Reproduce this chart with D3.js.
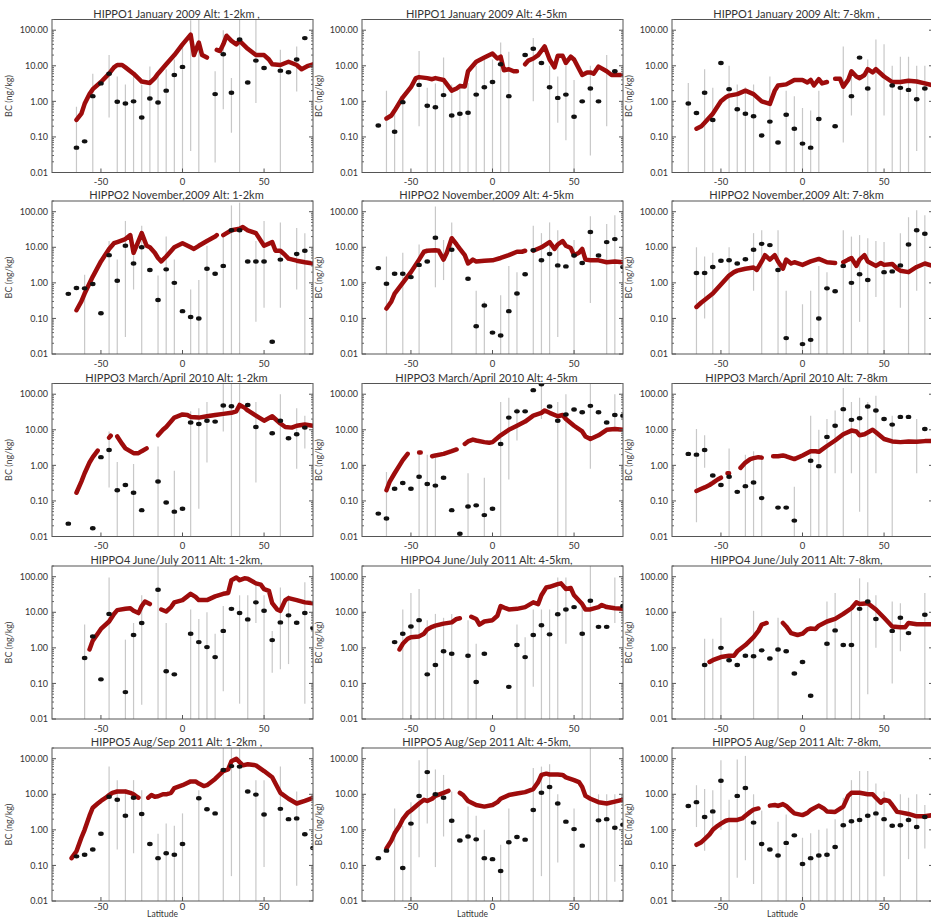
<!DOCTYPE html>
<html>
<head>
<meta charset="utf-8">
<script src="https://cdn.jsdelivr.net/npm/d3@7"></script>
<style>
  body { margin: 0; background: #fff; }
  svg { display: block; font-family: Lato, "Open Sans", sans-serif; }
</style>
</head>
<body>
<div id="chart"></div>
<script>
// HIPPO black carbon vs latitude — obs (points + ranges) and model (red line)

const campaigns = ["HIPPO1 January 2009", "HIPPO2 November,2009", "HIPPO3 March/April 2010", "HIPPO4 June/July 2011", "HIPPO5 Aug/Sep 2011"];
const altitudes = ["1-2km", "4-5km", "7-8km"];
const titleSuffix = [
  [" ,", "", " ,"],
  ["", "", ""],
  ["", "", ""],
  [",", ",", ","],
  [" ,", ",", ","]
];
const yTicks = [0.01, 0.1, 1, 10, 100];
const xTicks = [-50, 0, 50];

// obs: [lat, BC], bars: [lat, low, high], model: [lat, BC] (null = gap)
const h1a_obs = [[-65,0.05],[-60,0.075],[-55,1.4],[-50,3.2],[-45,6],[-40,0.97],[-35,0.87],[-30,1.0],[-25,0.35],[-20,1.2],[-15,0.93],[-10,2.0],[-5,5.5],[0,9.3],[20,1.6],[25,21],[30,1.75],[35,55],[40,3.4],[45,14],[50,8.7],[60,7.3],[65,6.6],[70,15],[75,60]];
const h1a_bars = [[-65,0.01,0.7],[-55,0.01,6],[-45,0.35,20],[-40,0.01,5],[-35,0.01,3],[-30,0.01,7],[-25,0.01,3],[-20,0.01,9.5],[-15,0.01,5],[-10,0.01,8],[-5,0.01,15],[0,0.01,40],[5,0.04,190],[10,0.01,200],[20,0.019,7],[25,0.6,100],[30,0.13,4.5],[35,0.01,200],[45,0.9,200],[60,0.01,28],[70,1.9,35]];
const h1a_model = [[-65,0.3],[-62,0.45],[-60,0.85],[-57,1.6],[-55,2.2],[-50,3.5],[-45,6],[-42,9],[-40,10.5],[-37,10.5],[-35,9],[-30,6],[-25,3.6],[-20,3.3],[-17,4.5],[-15,6],[-10,11],[-5,20],[0,40],[5,75],[7,20],[10,45],[12,20],[15,17],null,[21,28],[23,26],[25,40],[27,70],[30,50],[33,40],[35,50],[40,30],[45,20],[50,20],[53,15],[55,11],[60,10.5],[65,13],[70,10.5],[73,8],[77,10],[80,11]];

const h1b_obs = [[-70,0.21],[-60,0.14],[-55,0.95],[-45,2.9],[-40,0.75],[-35,0.68],[-30,1.5],[-25,0.4],[-20,0.45],[-15,0.48],[-10,1.55],[-5,2.5],[0,3.5],[5,11],[10,1.4],[20,20],[25,30],[30,12],[35,2.5],[40,1.25],[45,1.55],[50,0.37],[55,1.0],[60,2.3],[65,1.0],[75,7]];
const h1b_bars = [[-65,0.01,2],[-60,0.01,0.5],[-55,0.01,1.5],[-45,0.2,26],[-40,0.01,2.4],[-35,0.01,3.2],[-30,0.01,17],[-25,0.01,3],[-20,0.01,3.3],[-15,0.01,3.3],[-10,0.01,10],[-5,0.01,15],[0,0.01,15],[5,0.01,45],[10,0.01,25],[25,1,60],[35,0.01,10],[40,0.25,5],[45,0.08,10],[50,0.01,4],[60,0.03,10],[70,0.2,20]];
const h1b_model = [[-65,0.33],[-62,0.4],[-60,0.55],[-55,1.3],[-50,2.5],[-47,4.5],[-45,4.8],[-40,4.5],[-37,4.2],[-35,4.5],[-30,4.0],[-25,2.0],[-22,2.3],[-20,2.7],[-17,2.6],[-15,7],[-10,13],[-5,17],[0,22],[3,16],[5,18],[7,7.5],[10,8],[13,7],[15,7],null,[20,11],[22,14],[25,16],[28,20],[32,35],[35,15],[38,9],[40,19],[43,19],[45,12],[48,18],[50,15],[55,5.5],[58,6.5],[60,6.5],[62,6],[65,9.5],[70,7],[73,5.5],[80,5.5]];

const h1c_obs = [[-70,0.87],[-65,0.47],[-60,1.75],[-55,0.3],[-50,12],[-45,2.2],[-40,0.6],[-35,0.45],[-30,0.38],[-25,0.11],[-20,0.27],[-15,0.07],[-10,0.42],[-5,0.17],[0,0.065],[5,0.05],[10,0.32],[20,0.2],[30,1.4],[35,17],[40,2.3],[55,2.8],[60,2.4],[65,2.1],[70,1.15],[75,2.3]];
const h1c_bars = [[-70,0.01,3.3],[-60,0.01,8],[-55,0.01,2.4],[-45,0.01,10],[-40,0.01,3],[-35,0.01,2.5],[-30,0.01,3],[-20,0.01,5],[-10,0.01,2],[-5,0.01,1.4],[0,0.01,0.65],[5,0.01,0.55],[10,0.01,2],[25,0.07,35],[30,0.4,5],[40,0.01,15],[45,0.01,55],[50,0.4,40],[55,0.01,10],[60,0.01,18],[65,0.01,18],[70,0.04,10],[75,0.01,10]];
const h1c_model = [[-65,0.17],[-62,0.2],[-60,0.25],[-55,0.45],[-50,1.0],[-47,1.3],[-45,1.45],[-40,1.6],[-35,2.0],[-30,1.6],[-25,1.0],[-20,0.85],[-17,2.0],[-15,2.8],[-10,3.0],[-5,4.0],[0,4.0],[3,3.4],[5,4.0],[7,2.8],[10,4.2],[12,3.2],[15,3.5],null,[20,4.3],[23,4.3],[25,2.6],[28,4],[30,7],[33,5],[35,4.5],[38,5.5],[40,8],[43,6.5],[45,8],[50,5],[55,3.5],[60,3.5],[65,3.8],[70,3.6],[75,3.2],[80,2.8]];

const h2a_obs = [[-70,0.49],[-65,0.72],[-60,0.7],[-55,0.93],[-50,0.14],[-45,6],[-40,1.15],[-35,11],[-30,3.5],[-25,10],[-20,2.3],[-15,0.33],[-10,2.4],[-5,1.0],[0,0.16],[5,0.11],[10,0.1],[15,2.5],[20,1.8],[25,3],[30,30],[35,30],[40,4],[45,4],[50,4],[55,0.022],[60,4.5],[70,6.5],[75,8]];
const h2a_bars = [[-60,0.01,1.7],[-45,0.01,15],[-40,0.01,4.5],[-35,0.03,55],[-30,0.65,12],[-25,0.01,40],[-15,0.01,1.6],[-10,0.01,20],[-5,0.01,4.5],[5,0.01,0.65],[10,0.01,1.2],[15,0.01,11],[25,0.01,25],[30,0.01,150],[35,0.01,180],[45,0.08,15],[50,0.2,55],[60,0.2,50],[70,0.65,35],[75,0.01,25]];
const h2a_model = [[-65,0.17],[-62,0.3],[-60,0.5],[-55,1.5],[-50,4],[-45,9],[-42,13],[-40,14],[-35,17],[-32,22],[-30,7],[-27,15],[-25,25],[-22,11],[-20,10],[-17,7],[-15,5],[-13,4],[-10,5.5],[-5,10],[0,13],[5,10],[7,9],[10,11],[15,15],[20,20],[21,22],null,[25,22],[27,25],[30,30],[35,33],[37,37],[40,30],[45,25],[50,11],[55,14],[57,8],[60,8],[63,6],[65,4.8],[70,4.2],[75,3.8],[80,3.5]];

const h2b_obs = [[-70,2.6],[-65,0.94],[-60,1.8],[-55,1.8],[-50,1.45],[-45,3.2],[-40,4.0],[-35,18.5],[-25,8.5],[-15,1.3],[-10,0.06],[-5,0.23],[0,0.04],[5,0.033],[10,0.16],[15,0.5],[20,1.75],[25,8.3],[30,4.3],[35,6.5],[40,3.1],[45,2.9],[50,5.9],[55,3.6],[60,27],[65,5.9],[70,14],[75,17],[80,2.8]];
const h2b_bars = [[-65,0.01,5.5],[-55,0.01,7],[-45,0.01,12],[-35,0.75,140],[-30,1.2,16],[-25,0.01,50],[-10,0.01,0.6],[-5,0.01,0.3],[5,0.01,0.45],[10,0.01,3],[15,0.01,2],[25,0.01,40],[30,0.01,25],[35,0.01,50],[40,0.03,30],[50,0.01,16],[60,0.27,75],[70,0.01,45],[75,0.01,80]];
const h2b_model = [[-65,0.19],[-62,0.3],[-60,0.5],[-55,1.0],[-50,2],[-45,4.5],[-42,7.5],[-40,8],[-35,8.3],[-33,8],[-30,4.5],[-28,7],[-25,18],[-22,12],[-20,9],[-17,6],[-15,3.5],[-12,4.5],[-10,4],[-5,4.2],[0,4.3],[5,5],[10,6],[15,7.5],[18,7.5],[20,8],null,[25,8],[30,10],[35,14],[38,9],[40,12],[43,15],[45,11],[48,9.5],[50,6],[53,7],[55,9],[57,4.5],[60,4.3],[65,4.3],[70,3.8],[75,4],[80,3.8]];

const h2c_obs = [[-65,1.9],[-60,1.9],[-55,2.8],[-50,4.2],[-45,4.3],[-40,3.5],[-35,4.6],[-30,8.5],[-25,12.5],[-20,11.5],[-15,2.3],[-10,0.028],[0,0.019],[5,0.025],[10,0.1],[15,0.7],[20,0.58],[25,3.0],[30,1.0],[35,1.75],[40,1.2],[50,2.0],[55,2.1],[60,3.1],[65,12],[70,30],[75,24]];
const h2c_bars = [[-65,0.01,10],[-60,0.1,5.5],[-55,0.01,7],[-45,0.01,10],[-30,0.6,25],[-25,0.01,30],[-15,0.01,30],[-10,0.01,0.6],[0,0.01,0.25],[5,0.01,0.6],[10,0.01,3],[15,0.01,2],[25,0.01,30],[30,0.01,20],[35,0.08,22],[40,0.01,18],[45,0.4,15],[50,0.01,14],[60,0.2,25],[65,0.01,70],[70,0.6,110],[75,0.01,80]];
const h2c_model = [[-65,0.21],[-62,0.28],[-60,0.33],[-55,0.5],[-50,0.9],[-45,1.6],[-42,2.0],[-40,2.2],[-35,2.5],[-30,2.7],[-28,2.3],[-25,4],[-23,6],[-20,4.5],[-17,6],[-15,4],[-12,2.5],[-10,4.5],[-7,3.5],[-5,3.8],[0,3.2],[5,4],[10,4.7],[15,3.8],[20,3.6],null,[25,3.8],[28,4.5],[30,5],[33,3],[35,4.5],[38,6],[40,4],[45,3],[48,3.6],[50,3.2],[55,3.4],[58,2.5],[60,2.2],[65,2.0],[70,2.8],[75,3.5],[80,3.0]];

const h3a_obs = [[-70,0.023],[-55,0.017],[-50,1.7],[-45,2.7],[-40,0.2],[-35,0.28],[-30,0.17],[-25,0.055],[-15,0.35],[-10,0.09],[-5,0.05],[0,0.06],[5,16],[10,14.5],[15,18],[20,17],[25,48],[30,46],[40,50],[45,12],[55,8],[60,18],[65,5.8],[70,7.5],[75,11.5]];
const h3a_bars = [[-45,0.24,9],[-40,0.01,1.25],[-30,0.01,1.1],[-15,0.01,3.4],[-5,0.01,0.7],[5,0.01,33],[10,0.06,40],[15,1.2,60],[25,9,200],[30,0.01,200],[35,0.01,200],[45,0.33,60],[60,0.01,100],[70,0.8,40],[75,3,25]];
const h3a_model = [[-65,0.17],[-62,0.35],[-60,0.6],[-57,1.2],[-55,1.7],[-52,2.6],null,[-45,6],[-44,6.8],null,[-40,6.5],[-37,4],[-35,3],[-30,2.2],[-27,2.2],[-25,2.5],[-22,3.0],null,[-15,7],[-12,10],[-10,12],[-5,22],[0,27],[3,26],[5,23],[10,22],[15,24],[20,26],[25,28],[30,30],[33,33],[35,50],[38,42],[40,35],[45,25],[50,18],[55,24],[60,15],[63,12],[67,11.5],[70,13],[75,14],[80,13]];

const h3b_obs = [[-70,0.044],[-65,0.032],[-60,0.22],[-55,0.32],[-50,0.22],[-45,0.48],[-40,0.3],[-35,0.27],[-30,0.45],[-25,0.055],[-20,0.012],[-15,0.07],[-10,0.075],[-5,0.04],[0,0.06],[5,4],[10,22],[15,33],[20,33],[25,130],[30,190],[35,45],[40,18],[45,27],[50,37],[55,31],[60,47],[65,31],[70,16],[75,26],[80,25]];
const h3b_bars = [[-65,0.01,0.65],[-45,0.01,2.5],[-40,0.01,2],[-35,0.01,1.8],[-15,0.01,0.6],[-5,0.01,0.45],[5,0.01,60],[10,0.4,80],[15,5,40],[30,20,200],[40,0.01,60],[45,0.01,100],[60,0.8,200],[75,10,100]];
const h3b_model = [[-65,0.2],[-63,0.35],[-60,0.6],[-57,1.0],[-55,1.4],[-52,2.1],null,[-45,2.3],[-44,2.3],null,[-37,1.8],[-35,1.9],[-30,2.1],[-25,2.5],[-22,2.8],null,[-17,4.0],[-15,4.7],[-12,5.3],[-10,5],[-5,4.5],[-2,4.3],[0,4.5],[5,7],[10,10],[15,13],[20,17],[25,25],[30,30],[32,35],[35,30],[40,24],[43,26],[45,20],[50,13],[55,9],[57,6.5],[60,5.5],[65,7],[70,10],[75,10.5],[80,10]];

const h3c_obs = [[-70,2.1],[-65,2.0],[-60,2.7],[-55,0.52],[-50,0.28],[-45,0.48],[-40,0.18],[-35,0.26],[-30,0.33],[-25,0.12],[-15,0.065],[-10,0.065],[-5,0.028],[5,1.35],[10,0.95],[15,6.3],[20,13],[25,38],[30,19],[35,21],[40,45],[45,35],[50,20],[55,14],[60,23],[65,23],[75,10.5]];
const h3c_bars = [[-65,0.025,10.5],[-60,0.85,7],[-45,0.01,3],[-35,0.01,2],[-30,0.01,2.5],[-25,0.01,2],[-5,0.01,0.25],[5,0.01,25],[10,0.01,10],[15,0.01,20],[20,0.6,35],[25,0.01,150],[30,0.6,60],[35,0.05,80],[40,0.01,60],[45,0.6,90],[55,0.01,25],[70,0.6,20]];
const h3c_model = [[-65,0.19],[-62,0.22],[-60,0.24],[-57,0.28],[-55,0.32],[-52,0.4],[-50,0.45],null,[-46,0.6],[-45,0.6],null,[-38,0.85],[-35,1.2],[-32,1.5],[-30,1.6],[-27,1.7],[-25,1.65],null,[-18,1.8],[-15,1.8],[-12,1.9],[-10,1.8],[-5,1.5],[0,1.9],[5,2.5],[8,2.5],[10,2.4],[15,3.5],[20,5],[25,7.5],[30,9.5],[33,9],[35,7],[38,7.5],[43,10],[45,8.5],[50,5.5],[55,4.7],[60,4.5],[65,4.7],[70,4.6],[75,4.8],[80,4.8]];

const h4a_obs = [[-60,0.52],[-55,2.1],[-50,0.13],[-45,9],[-35,0.057],[-30,2.3],[-25,5],[-15,43],[-10,0.22],[-5,0.18],[5,2.5],[10,1.45],[15,1.05],[20,0.55],[25,3],[30,12.5],[35,9.5],[40,6.3],[45,19],[50,11],[55,1.65],[60,5.2],[65,8.2],[70,5.1],[75,9.5],[80,3.6]];
const h4a_bars = [[-60,0.01,4.5],[-45,0.01,95],[-35,0.01,1.7],[-30,0.01,5],[-25,0.025,30],[-15,0.01,200],[-10,0.01,5],[5,0.01,12],[10,0.01,6.5],[15,0.01,10],[20,0.01,2.5],[25,0.06,15],[35,0.027,30],[40,0.01,30],[45,5,60],[50,0.01,30],[55,0.2,3],[60,0.25,50],[65,0.35,30],[75,0.027,70]];
const h4a_model = [[-57,0.9],[-55,1.6],[-52,2.5],[-50,3.4],[-45,5.5],[-42,9],[-40,11.5],[-35,12.5],[-32,13],[-30,11],[-27,9.5],[-25,15],[-23,20],[-20,17],null,[-13,12],[-10,10.5],[-7,14],[-5,19],[0,22],[3,28],[5,33],[8,27],[10,22],[15,22],[20,28],[25,33],[28,35],[30,80],[33,95],[35,80],[38,90],[40,88],[45,65],[48,60],[50,45],[53,40],[55,18],[58,12],[60,11],[63,22],[65,25],[70,22],[75,19],[80,18]];

const h4b_obs = [[-60,1.45],[-55,2.5],[-50,4],[-45,6],[-40,0.18],[-35,0.33],[-30,0.8],[-25,0.68],[-15,0.6],[-10,0.11],[-5,0.68],[10,0.08],[15,1.2],[20,0.55],[25,2.3],[30,4.3],[35,2.4],[40,8.8],[45,12],[50,14],[55,2.5],[60,21],[65,3.9],[70,3.9],[80,15]];
const h4b_bars = [[-55,0.01,12],[-50,0.01,35],[-45,0.01,45],[-40,0.01,6],[-35,0.01,9],[-30,0.01,7],[-25,0.01,9],[-15,0.01,6],[-10,0.01,1.3],[15,0.01,4.5],[20,0.01,2],[25,0.08,12],[30,0.01,12],[35,0.01,12],[40,0.01,95],[45,1.3,95],[55,0.01,20],[60,0.01,200],[75,5,95]];
const h4b_model = [[-57,0.9],[-55,1.3],[-52,1.8],[-50,2],[-45,2.1],[-42,2.5],[-40,3.3],[-37,3.9],[-35,4.2],[-30,4.8],[-25,5.2],[-22,6.5],[-20,6.8],null,[-13,7.5],[-10,6.5],[-8,4.5],[-5,5.5],[0,6],[3,8],[5,15],[8,13],[10,12],[15,12.5],[20,14],[25,19],[28,17],[30,30],[33,50],[35,52],[40,62],[42,65],[45,45],[48,48],[50,30],[55,17],[57,12],[60,12],[65,14],[67,16],[70,14],[75,13],[80,12.5]];

const h4c_obs = [[-60,0.33],[-50,1.0],[-45,0.45],[-40,0.33],[-35,0.6],[-30,0.58],[-25,0.85],[-20,0.5],[-15,0.9],[-10,0.8],[-5,0.19],[0,0.4],[5,0.045],[15,1.3],[20,3.1],[25,1.2],[30,1.2],[35,12.5],[40,20],[45,6.5],[55,3],[60,7],[65,2.6],[75,8.5]];
const h4c_bars = [[-60,0.01,1.8],[-55,0.01,1.8],[-50,0.01,7],[-30,0.01,11],[-15,0.01,7],[15,0.01,20],[20,0.01,35],[30,0.01,12],[35,0.01,90],[40,0.05,70],[45,1,30],[55,0.1,20],[60,0.8,18],[75,0.01,35]];
const h4c_model = [[-57,0.4],[-55,0.45],[-50,0.55],[-45,0.6],[-42,0.6],[-40,0.8],[-35,1.2],[-30,2.0],[-27,3],[-25,4.5],[-22,5],null,[-12,5],[-10,4],[-7,2.6],[-3,2.3],[0,2.5],[3,3.3],[5,3.5],[8,3.4],[10,4.2],[15,5.5],[20,6.5],[25,9],[30,13],[33,19],[35,17],[40,18],[45,12],[50,7],[55,4],[60,3.8],[63,3.8],[65,5],[70,4.6],[75,4.6],[80,4.6]];

const h5a_obs = [[-65,0.18],[-60,0.2],[-55,0.28],[-50,0.78],[-45,8.5],[-40,7],[-35,2.5],[-30,8],[-25,2.8],[-20,0.4],[-15,0.16],[-10,0.22],[-5,0.2],[0,0.4],[10,7.7],[15,3.8],[20,2.9],[25,48],[30,62],[35,60],[40,12],[45,9.8],[50,2.7],[60,3.9],[65,2],[70,2.1],[75,0.75],[80,0.31]];
const h5a_bars = [[-45,0.01,60],[-40,0.28,25],[-35,0.01,14],[-30,0.22,25],[-25,0.01,13],[-15,0.01,0.78],[-10,0.01,1.5],[-5,0.01,1.3],[0,0.01,2.9],[10,0.01,13],[25,0.01,200],[30,0.05,200],[35,0.01,200],[45,0.01,25],[50,0.09,25],[60,0.01,60],[70,0.027,12]];
const h5a_model = [[-68,0.16],[-65,0.25],[-62,0.6],[-60,1.0],[-57,2.5],[-55,4.2],[-52,5.5],[-50,6.5],[-47,8],[-45,9.5],[-43,11],[-40,12],[-35,12],[-32,11],[-30,10],[-28,8.5],[-27,8],null,[-21,8],[-19,9.5],[-17,8.5],[-15,8.8],[-12,10],[-10,10],[-7,11],[-5,15],[0,18],[5,23],[8,23],[10,20],[13,17],[15,18],[20,27],[25,45],[28,50],[30,85],[33,100],[35,80],[37,65],[40,70],[45,65],[50,45],[55,30],[57,20],[60,11],[65,7.5],[70,5.5],[75,6.5],[80,8]];

const h5b_obs = [[-70,0.16],[-65,0.26],[-55,0.085],[-50,1.5],[-45,9],[-40,42],[-35,10],[-30,8],[-25,1.8],[-20,0.5],[-15,0.65],[-10,0.54],[-5,0.16],[0,0.15],[5,0.07],[10,0.45],[15,0.63],[20,0.53],[25,3.6],[30,11],[35,16],[40,5.5],[45,1.7],[50,1.05],[55,0.36],[65,1.85],[70,2.0],[75,1.15],[80,1.4]];
const h5b_bars = [[-60,0.01,4],[-55,0.01,1.3],[-50,0.01,6],[-45,0.17,90],[-40,1.5,200],[-35,0.09,50],[-30,0.65,35],[-25,0.01,12],[-15,0.01,4.5],[-10,0.01,2.5],[-5,0.01,1],[5,0.01,0.38],[10,0.01,4],[25,0.01,55],[30,0.05,60],[35,0.01,70],[40,0.12,10],[50,0.01,4],[60,0.01,200],[65,0.01,10],[70,0.01,10],[75,0.035,10]];
const h5b_model = [[-65,0.3],[-62,0.5],[-60,0.8],[-57,1.3],[-55,2.0],[-52,3.0],[-50,3.5],[-45,5.5],[-42,7],[-40,6.5],[-37,7.5],[-35,9],[-30,11],[-27,12.5],null,[-20,11],[-18,9.5],[-15,6.5],[-10,5],[-5,4.5],[0,5],[3,6],[5,7.5],[10,9.5],[15,10.5],[20,11.5],[25,14],[28,22],[30,35],[33,38],[35,36],[40,36],[43,35],[45,30],[50,25],[53,22],[55,16],[57,9],[60,7.5],[65,6],[70,5.5],[75,6.2],[80,7]];

const h5c_obs = [[-70,4.7],[-65,6],[-60,2.3],[-55,3.3],[-50,24],[-40,9],[-35,15],[-30,1.6],[-25,0.4],[-20,0.28],[-15,0.19],[-10,0.43],[-5,0.7],[0,0.11],[5,0.16],[10,0.19],[15,0.2],[20,0.33],[25,1.35],[30,1.75],[35,1.9],[40,2.5],[45,2.9],[50,2.0],[55,1.3],[60,1.35],[65,1.9],[70,1.2],[75,2.3]];
const h5c_bars = [[-65,1.2,18],[-60,0.26,14],[-55,1,13],[-50,1,90],[-45,0.01,7],[-40,0.045,95],[-35,0.14,120],[-30,0.03,10],[-25,0.01,3.5],[-15,0.01,1.7],[-10,0.01,2.7],[0,0.01,0.6],[5,0.01,0.8],[10,0.01,1],[15,0.01,1.1],[20,0.01,2],[25,0.01,8],[30,0.01,25],[35,0.01,45],[40,0.01,45],[45,0.01,20],[50,0.05,12],[60,0.01,10],[65,0.15,8],[70,0.01,10],[75,0.3,5]];
const h5c_model = [[-65,0.38],[-62,0.45],[-60,0.55],[-57,0.75],[-55,1.0],[-52,1.3],[-50,1.5],[-47,1.8],[-45,1.9],[-40,1.9],[-37,2.1],[-35,2.5],[-32,3.2],[-30,3.7],[-27,4.0],null,[-20,4.8],[-17,5.0],[-15,4.7],[-12,5.3],[-10,4.7],[-7,3.5],[-5,2.9],[0,2.6],[3,3.0],[5,3.6],[10,4.8],[13,4.0],[15,3.3],[20,3.2],[25,4.5],[28,9],[30,11],[35,11],[40,10],[43,10],[45,8],[48,5.8],[50,7],[53,6.5],[55,5],[58,3.2],[60,3.1],[65,2.8],[70,2.4],[75,2.4],[80,2.6]];

const panelData = [
  [[h1a_obs, h1a_bars, h1a_model], [h1b_obs, h1b_bars, h1b_model], [h1c_obs, h1c_bars, h1c_model]],
  [[h2a_obs, h2a_bars, h2a_model], [h2b_obs, h2b_bars, h2b_model], [h2c_obs, h2c_bars, h2c_model]],
  [[h3a_obs, h3a_bars, h3a_model], [h3b_obs, h3b_bars, h3b_model], [h3c_obs, h3c_bars, h3c_model]],
  [[h4a_obs, h4a_bars, h4a_model], [h4b_obs, h4b_bars, h4b_model], [h4c_obs, h4c_bars, h4c_model]],
  [[h5a_obs, h5a_bars, h5a_model], [h5b_obs, h5b_bars, h5b_model], [h5c_obs, h5c_bars, h5c_model]]
];

const W = 931, H = 919;
const colX = [0, 310, 620];
const rowY = [19.5, 201, 383.5, 566, 748];
const pw = 261, ph = 153, pl = 52;

const svg = d3.select("#chart").append("svg").attr("width", W).attr("height", H);

const x = d3.scaleLinear().domain([-80, 80]).range([0, pw]);
const y = d3.scaleLog().domain([0.01, 200]).range([ph, 0]);

const minorTicks = [];
yTicks.forEach(t => { if (t < 100) for (let k = 2; k <= 9; k++) minorTicks.push(t * k); });
minorTicks.push(200);

const line = d3.line()
  .defined(d => d !== null)
  .x(d => x(d[0]))
  .y(d => y(d[1]));

campaigns.forEach((camp, r) => {
  const last = r === campaigns.length - 1;
  altitudes.forEach((alt, c) => {
    const [obs, bars, model] = panelData[r][c];
    const id = `clip${r}${c}`;
    const g = svg.append("g").attr("transform", `translate(${colX[c] + pl},${rowY[r]})`);

    g.append("clipPath").attr("id", id)
      .append("rect").attr("width", pw).attr("height", ph);

    // title
    g.append("text")
      .attr("x", pw / 2 - 6).attr("y", -2)
      .attr("text-anchor", "middle")
      .style("font-size", "11px")
      .style("fill", "#333")
      .text(`${camp} Alt: ${alt}${titleSuffix[r][c]}`);

    // y label
    g.append("text")
      .attr("transform", `translate(-40,${ph / 2}) rotate(-90)`)
      .attr("text-anchor", "middle")
      .style("font-size", "9px")
      .style("fill", "#444")
      .text("BC (ng/kg)");

    const plot = g.append("g").attr("clip-path", `url(#${id})`);

    // observation ranges
    plot.selectAll("line.bar").data(bars).join("line")
      .attr("class", "bar")
      .attr("x1", d => x(d[0])).attr("x2", d => x(d[0]))
      .attr("y1", d => y(d[1])).attr("y2", d => y(d[2]))
      .attr("stroke", "#c8c8c8").attr("stroke-width", 1.2);

    // model
    plot.append("path").datum(model)
      .attr("d", line)
      .attr("fill", "none")
      .attr("stroke", "#9e0c0c")
      .attr("stroke-width", 4.5)
      .attr("stroke-linejoin", "round")
      .attr("stroke-linecap", "round");

    // observations
    plot.selectAll("ellipse").data(obs).join("ellipse")
      .attr("cx", d => x(d[0])).attr("cy", d => y(d[1]))
      .attr("rx", 2.8).attr("ry", 2.2)
      .attr("fill", "#111");

    // frame
    g.append("rect").attr("width", pw).attr("height", ph)
      .attr("fill", "none").attr("stroke", "#555").attr("stroke-width", 1);

    // y ticks (inward, both sides)
    const yAxis = g.append("g").style("font-size", "9px").style("fill", "#333");
    [0, pw].forEach(side => {
      const dir = side === 0 ? 1 : -1;
      yAxis.selectAll(null).data(yTicks).join("line")
        .attr("x1", side).attr("x2", side + dir * 4)
        .attr("y1", d => y(d)).attr("y2", d => y(d))
        .attr("stroke", "#555");
      yAxis.selectAll(null).data(minorTicks).join("line")
        .attr("x1", side).attr("x2", side + dir * 2)
        .attr("y1", d => y(d)).attr("y2", d => y(d))
        .attr("stroke", "#666");
    });
    yAxis.selectAll("text").data(yTicks).join("text")
      .attr("x", -4).attr("y", d => y(d) + 3.2)
      .attr("text-anchor", "end")
      .text(d => d3.format(".2f")(d));

    // x ticks
    const xAxis = g.append("g").style("font-size", "9.5px").style("fill", "#333");
    xAxis.selectAll("line").data(xTicks).join("line")
      .attr("x1", d => x(d)).attr("x2", d => x(d))
      .attr("y1", ph).attr("y2", ph - 4)
      .attr("stroke", "#555");
    xAxis.selectAll("text").data(xTicks).join("text")
      .attr("x", d => x(d)).attr("y", ph + (last ? 9 : 12.5))
      .attr("text-anchor", "middle")
      .text(d => d);

    if (last) {
      g.append("text")
        .attr("x", pw / 2 - 20).attr("y", ph + 15.5)
        .attr("text-anchor", "middle")
        .style("font-size", "8.5px")
        .style("fill", "#333")
        .text("Latitude");
    }
  });
});
</script>
</body>
</html>
